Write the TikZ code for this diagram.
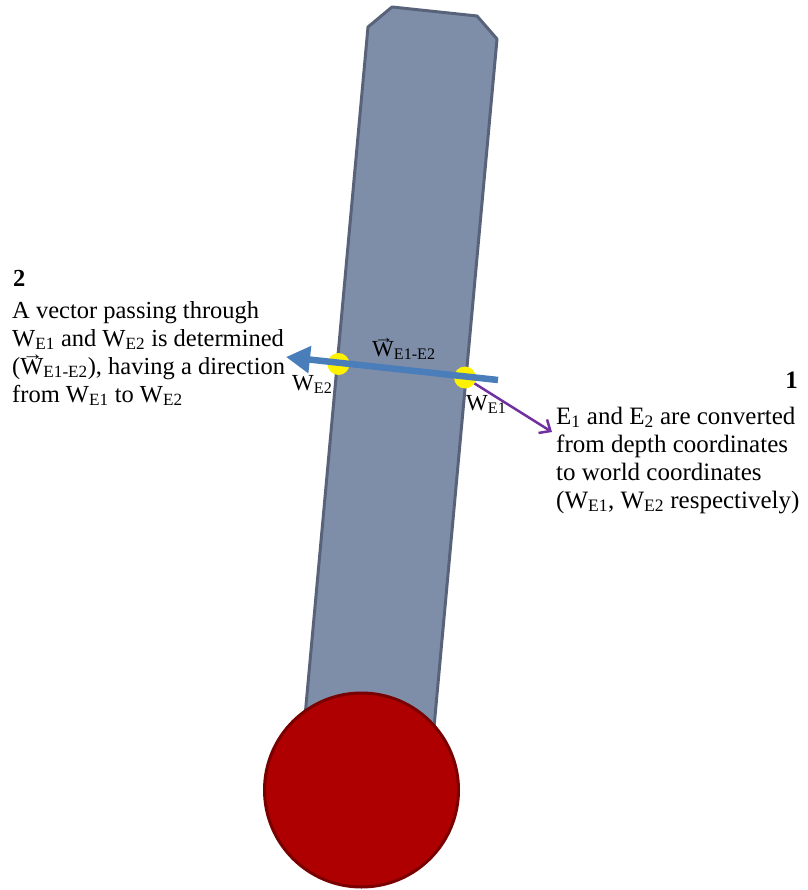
\documentclass[tikz,border=0pt]{standalone}
\usepackage{fontspec}
\setmainfont{Liberation Serif}
\usepackage{graphicx}
\usetikzlibrary{arrows.meta}
\definecolor{barfill}{RGB}{127,142,168}
\definecolor{barline}{RGB}{88,99,122}
\definecolor{ballfill}{RGB}{174,0,0}
\definecolor{ballline}{RGB}{122,0,0}
\definecolor{vecblue}{RGB}{74,126,187}
\definecolor{convpurple}{RGB}{112,48,160}
\newcommand\vW{\makebox[0pt][l]{\raisebox{0.55em}{\hspace{0.08em}\scalebox{0.85}[0.8]{→}}}W}
\newcommand\sbs[1]{\textsubscript{#1}}
\begin{document}
\begin{tikzpicture}[x=1pt,y=-1pt,
  bar/.style={draw=barline, fill=barfill, line width=3pt, line join=round},
  ball/.style={circle, draw=ballline, fill=ballfill, line width=3pt, minimum size=194pt, inner sep=0},
  dot/.style={circle, fill=yellow, minimum size=22pt, inner sep=0},
  vecarrow/.style={draw=vecblue, line width=6.5pt, -{Triangle[length=24pt,width=26pt]}},
  convarrow/.style={draw=convpurple, line width=2.5pt, -{Straight Barb[length=9pt,width=16pt]}},
  txt/.style={font=\fontsize{25}{28}\selectfont, inner sep=0, align=left},
  txtl/.style={font=\fontsize{24.5}{28}\selectfont, inner sep=0, align=left},
  lbl/.style={font=\fontsize{23}{27}\selectfont, inner sep=0}]
\useasboundingbox (0,0) rectangle (807,890);
% bar
\draw[bar] (368,27) -- (392,7) -- (477,16) -- (497,39) -- (431,760) -- (301,760) -- cycle;
% ball
\node[ball] (ball) at (361.5,790) {};
% points
\node[dot] (we2) at (338.5,364) {};
\node[dot] (we1) at (465,377.5) {};
% vector
\coordinate (vs) at (498,380);
\coordinate (vt) at (286,357);
\draw[vecarrow] (vs) -- (vt);
% conversion arrow
\coordinate (pt) at (552,432);
\draw[convarrow] (we1) -- (pt);
% labels
\node[lbl, anchor=base west] (lwe2) at (292,390) {W\sbs{E2}};
\node[lbl, anchor=base west] (lwe1) at (466,410) {W\sbs{E1}};
\node[lbl, anchor=base west] (lvec) at (372,356) {\vW\sbs{E1-E2}};
% text 2
\node[txtl, anchor=base west] (h2) at (13,287) {\textbf{2}};
\node[txtl, anchor=base west] (t2) at (12,402) {A vector passing through\\W\sbs{E1} and W\sbs{E2} is determined\\(\vW\sbs{E1-E2}), having a direction\\from W\sbs{E1} to W\sbs{E2}};
% text 1
\node[txt, anchor=base east] (h1) at (798,388) {\textbf{1}};
\node[txt, anchor=base west] (t1) at (556,508) {E\sbs{1} and E\sbs{2} are converted\\from depth coordinates\\to world coordinates\\(W\sbs{E1}, W\sbs{E2} respectively)};
\end{tikzpicture}
\end{document}
